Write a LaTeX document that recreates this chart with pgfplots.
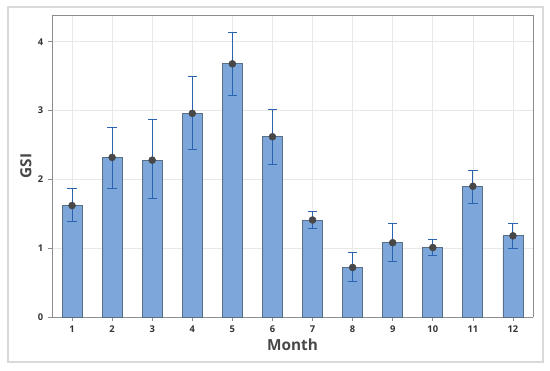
\documentclass[border=0pt]{standalone}
\usepackage{pgfplots}
\pgfplotsset{compat=1.18}
\usepackage{fontspec}
\setmainfont{Open Sans}
\definecolor{barfill}{HTML}{7DA6DA}
\definecolor{baredge}{HTML}{5A6E86}
\definecolor{errc}{HTML}{2A64B0}
\definecolor{dotc}{HTML}{474747}
\definecolor{gridc}{HTML}{E8E8E8}
\definecolor{axc}{HTML}{8C8C8C}
\definecolor{txt}{HTML}{333333}
\begin{document}
\begin{tikzpicture}[x=1pt,y=1pt]
\useasboundingbox (-39,-40.5) rectangle (373.5,237.75);
\draw[color=black!15, line width=0.8pt] (-33,-33.75) rectangle (368.25,232.5);
\begin{axis}[
  at={(0,0)}, anchor=south west,
  scale only axis, width=360.75pt, height=226.5pt,
  xmin=0.5, xmax=12.5, ymin=0, ymax=4.39,
  xtick={1,...,12}, ytick={0,1,2,3,4},
  axis line style={axc, line width=0.6pt},
  axis x line*=bottom, axis y line*=left,
  tick style={axc, line width=0.5pt},
  tick align=outside, major tick length=3pt,
  grid=major, major grid style={gridc, line width=0.5pt},
  tick label style={font=\fontsize{7}{8}\selectfont\bfseries, text=txt},
  /pgf/number format/assume math mode=true,
  xlabel={Month}, ylabel={GSI},
  label style={font=\fontsize{11.5}{13}\selectfont\bfseries, text=txt!90},
  xlabel style={yshift=2pt},
  ylabel style={yshift=-2pt},
  clip=false,
]
\draw[axc, line width=0.6pt] (axis cs:0.5,4.39) -- (axis cs:12.5,4.39) -- (axis cs:12.5,0);
\addplot[ybar, bar width=0.5, fill=barfill, draw=baredge, line width=0.6pt] coordinates {
(1,1.62) (2,2.32) (3,2.28) (4,2.96) (5,3.68) (6,2.62) (7,1.41) (8,0.72) (9,1.08) (10,1.01) (11,1.90) (12,1.18)};
\addplot[only marks, mark=*, mark size=2.6pt, mark options={fill=dotc, draw=dotc},
  error bars/.cd, y dir=both, y explicit,
  error bar style={errc, line width=0.8pt},
  error mark options={errc, line width=0.8pt, mark size=3.5pt, rotate=90}]
  table[x=x, y=y, y error plus=ep, y error minus=em] {
x y ep em
1 1.62 0.25 0.23
2 2.32 0.44 0.45
3 2.28 0.59 0.56
4 2.96 0.53 0.52
5 3.68 0.45 0.46
6 2.62 0.40 0.40
7 1.41 0.13 0.12
8 0.72 0.22 0.20
9 1.08 0.28 0.28
10 1.01 0.12 0.12
11 1.90 0.23 0.25
12 1.18 0.18 0.19
};
\end{axis}
\end{tikzpicture}
\end{document}
